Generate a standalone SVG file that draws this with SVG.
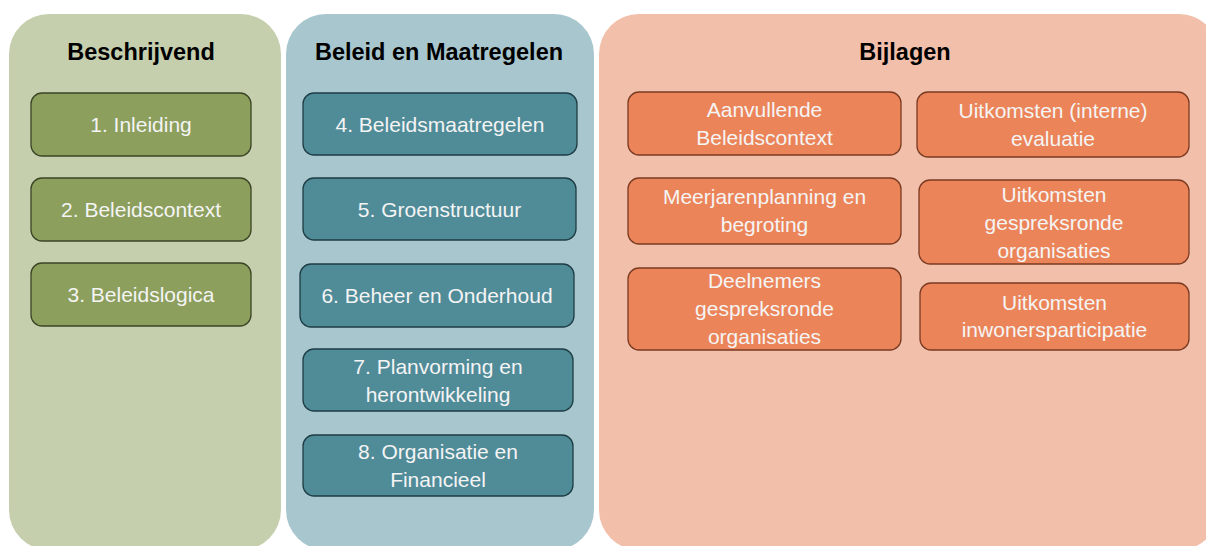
<svg xmlns="http://www.w3.org/2000/svg" width="1206" height="546" viewBox="0 0 1206 546">
<style>
.title{font-family:"Liberation Sans",Arial,sans-serif;font-weight:bold;font-size:23.5px;fill:#000;text-anchor:middle}
.lbl{font-family:"Liberation Sans",Arial,sans-serif;font-size:21px;fill:#f4f4f4;text-anchor:middle}
.g{fill:#8c9f5d;stroke:#3b4526;stroke-width:1.3}
.b{fill:#508b98;stroke:#1e3d44;stroke-width:1.3}
.o{fill:#ec8459;stroke:#7a3b22;stroke-width:1.3}
</style>
<rect width="1206" height="546" fill="#ffffff"/>
<g id="panel-beschrijvend">
<rect x="9" y="14" width="272" height="536" rx="40" fill="#c5cfae"/>
<text class="title" x="141" y="60">Beschrijvend</text>
</g>
<g id="panel-beleid">
<rect x="286" y="14" width="308" height="536" rx="40" fill="#a8c6cd"/>
<text class="title" x="439" y="60">Beleid en Maatregelen</text>
</g>
<g id="panel-bijlagen">
<rect x="599" y="14" width="620" height="536" rx="40" fill="#f2bfaa"/>
<text class="title" x="905" y="60">Bijlagen</text>
</g>
<g id="n1"><rect class="g" x="31" y="93" width="220" height="63" rx="11"/><text class="lbl" x="141" y="132">1. Inleiding</text></g>
<g id="n2"><rect class="g" x="31" y="178" width="220" height="63" rx="11"/><text class="lbl" x="141" y="217">2. Beleidscontext</text></g>
<g id="n3"><rect class="g" x="31" y="263" width="220" height="63" rx="11"/><text class="lbl" x="141" y="302">3. Beleidslogica</text></g>
<g id="n4"><rect class="b" x="303" y="93" width="274" height="62" rx="11"/><text class="lbl" x="440" y="131.5">4. Beleidsmaatregelen</text></g>
<g id="n5"><rect class="b" x="303" y="178" width="273" height="62" rx="11"/><text class="lbl" x="439.5" y="216.5">5. Groenstructuur</text></g>
<g id="n6"><rect class="b" x="300" y="264" width="274" height="63" rx="11"/><text class="lbl" x="437" y="303">6. Beheer en Onderhoud</text></g>
<g id="n7"><rect class="b" x="303" y="349" width="270" height="62" rx="11"/><text class="lbl" x="438" y="373.5">7. Planvorming en</text><text class="lbl" x="438" y="401.5">herontwikkeling</text></g>
<g id="n8"><rect class="b" x="303" y="435" width="270" height="61" rx="11"/><text class="lbl" x="438" y="459">8. Organisatie en</text><text class="lbl" x="438" y="487">Financieel</text></g>
<g id="a1"><rect class="o" x="628" y="92" width="273" height="63" rx="11"/><text class="lbl" x="764.5" y="117">Aanvullende</text><text class="lbl" x="764.5" y="145">Beleidscontext</text></g>
<g id="a2"><rect class="o" x="917" y="92" width="272" height="65" rx="11"/><text class="lbl" x="1053" y="118">Uitkomsten (interne)</text><text class="lbl" x="1053" y="146">evaluatie</text></g>
<g id="a3"><rect class="o" x="628" y="178" width="273" height="66" rx="11"/><text class="lbl" x="764.5" y="204">Meerjarenplanning en</text><text class="lbl" x="764.5" y="232">begroting</text></g>
<g id="a4"><rect class="o" x="919" y="180" width="270" height="84" rx="11"/><text class="lbl" x="1054" y="201.5">Uitkomsten</text><text class="lbl" x="1054" y="229.5">gespreksronde</text><text class="lbl" x="1054" y="257.5">organisaties</text></g>
<g id="a5"><rect class="o" x="628" y="268" width="273" height="82" rx="11"/><text class="lbl" x="764.5" y="288">Deelnemers</text><text class="lbl" x="764.5" y="316">gespreksronde</text><text class="lbl" x="764.5" y="344">organisaties</text></g>
<g id="a6"><rect class="o" x="920" y="283" width="269" height="67" rx="11"/><text class="lbl" x="1054.5" y="310">Uitkomsten</text><text class="lbl" x="1054.5" y="337">inwonersparticipatie</text></g>
<g id="connectors"/>
</svg>
